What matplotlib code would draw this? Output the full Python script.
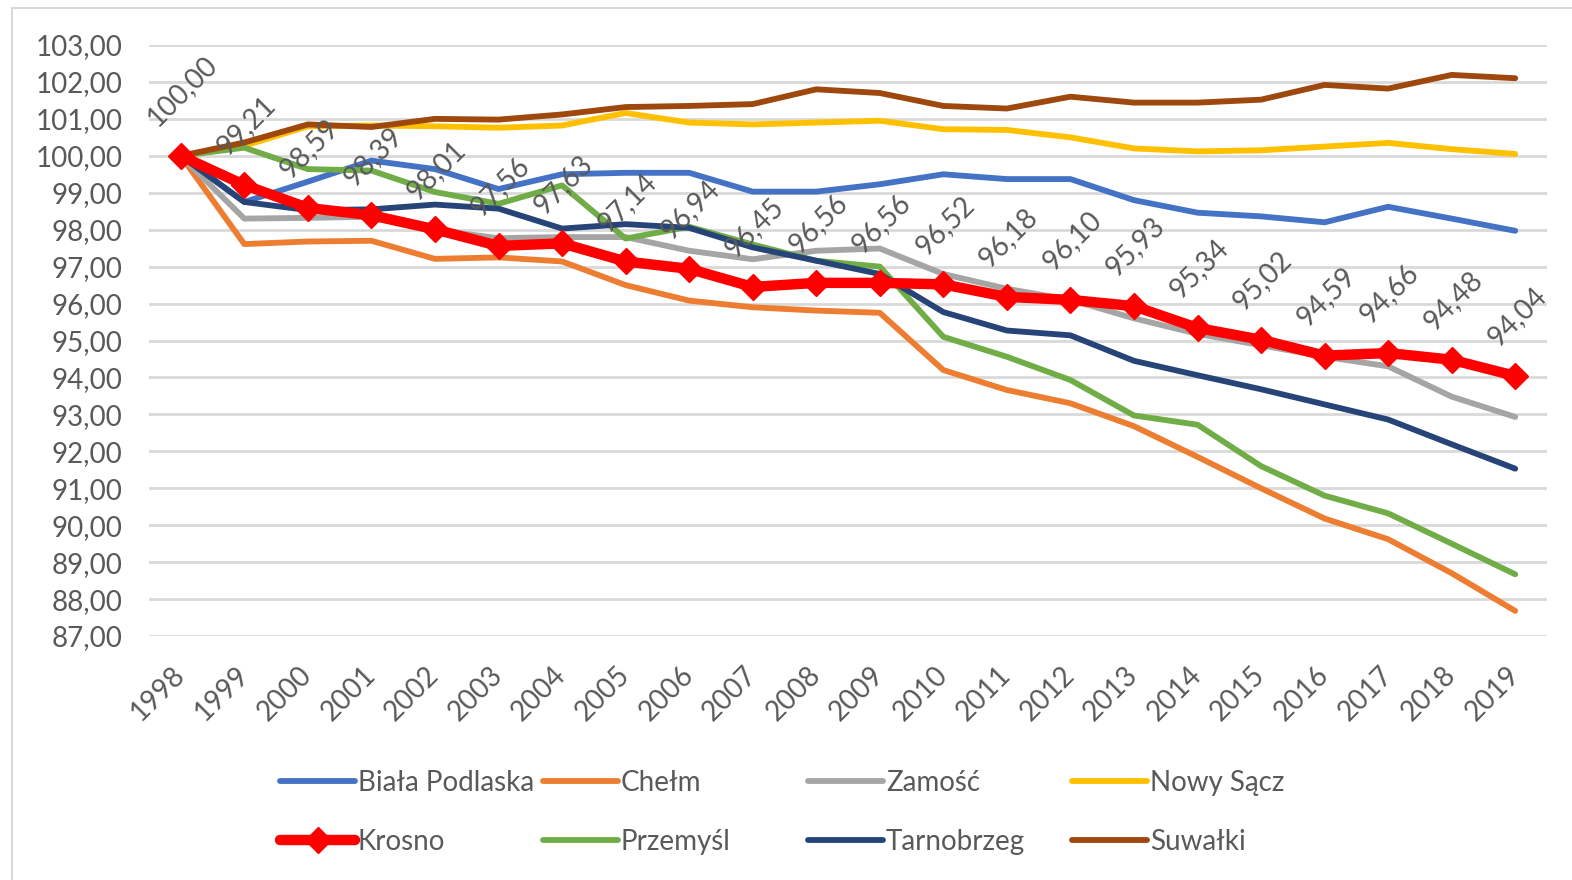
import matplotlib
matplotlib.use("Agg")
import matplotlib.pyplot as plt
from matplotlib.lines import Line2D
from matplotlib.patches import Rectangle

plt.rcParams['font.family'] = ['Lato', 'DejaVu Sans']

years = [str(y) for y in range(1998, 2020)]

biala = [100, 98.75, 99.3, 99.87, 99.64, 99.1, 99.5, 99.54, 99.54, 99.03, 99.03,
         99.23, 99.5, 99.37, 99.37, 98.8, 98.46, 98.36, 98.2, 98.62, 98.3, 97.97]
chelm = [100, 97.61, 97.68, 97.7, 97.21, 97.25, 97.14, 96.5, 96.08, 95.9, 95.81,
         95.75, 94.2, 93.66, 93.3, 92.68, 91.85, 91.0, 90.18, 89.62, 88.7, 87.68]
zamosc = [100, 98.3, 98.32, 98.35, 97.99, 97.77, 97.8, 97.8, 97.43, 97.2, 97.43,
          97.49, 96.8, 96.4, 96.1, 95.6, 95.18, 94.87, 94.56, 94.3, 93.48, 92.93]
nowy_sacz = [100, 100.27, 100.8, 100.82, 100.8, 100.76, 100.82, 101.16, 100.9, 100.85, 100.9,
             100.95, 100.72, 100.7, 100.5, 100.2, 100.12, 100.15, 100.25, 100.35, 100.18, 100.05]
krosno = [100, 99.21, 98.59, 98.39, 98.01, 97.56, 97.63, 97.14, 96.94, 96.45, 96.56,
          96.56, 96.52, 96.18, 96.10, 95.93, 95.34, 95.02, 94.59, 94.66, 94.48, 94.04]
przemysl = [100, 100.22, 99.64, 99.6, 99.02, 98.7, 99.2, 97.76, 98.08, 97.6, 97.16,
            97.0, 95.1, 94.56, 93.93, 92.97, 92.72, 91.6, 90.8, 90.32, 89.5, 88.67]
tarnobrzeg = [100, 98.75, 98.53, 98.55, 98.68, 98.57, 98.03, 98.15, 98.05, 97.52, 97.16,
              96.8, 95.77, 95.27, 95.14, 94.45, 94.06, 93.68, 93.27, 92.86, 92.19, 91.53]
suwalki = [100, 100.36, 100.85, 100.78, 101.0, 100.98, 101.12, 101.32, 101.35, 101.4, 101.8,
           101.7, 101.35, 101.28, 101.6, 101.44, 101.44, 101.52, 101.92, 101.82, 102.19, 102.1]

names = ["Biała Podlaska", "Chełm", "Zamość", "Nowy Sącz", "Krosno", "Przemyśl", "Tarnobrzeg", "Suwałki"]
series = [biala, chelm, zamosc, nowy_sacz, krosno, przemysl, tarnobrzeg, suwalki]
colors = ["#4472C4", "#ED7D31", "#A5A5A5", "#FFC000", "#FF0000", "#70AD47", "#264478", "#9E480E"]

yticks = list(range(87, 104))
TXT = "#595959"
FS = 20

fig = plt.figure(figsize=(15.72, 8.8), dpi=100)
fig.patch.set_facecolor("white")
fig.patches.append(Rectangle((12 / 1572, -0.05), 1.2, 1 - 8 / 880 + 0.05, transform=fig.transFigure,
                             fill=False, edgecolor="#D9D9D9", lw=1.5, zorder=0))

ax = fig.add_axes([149 / 1572, 1 - 636 / 880, (1547 - 149) / 1572, (636 - 45) / 880])
x = list(range(len(years)))

handles = {}
for name, vals, col in zip(names, series, colors):
    if name == "Krosno":
        continue
    h, = ax.plot(x, vals, color=col, lw=4.2, solid_capstyle='round', solid_joinstyle='round', zorder=3)
    handles[name] = h

h, = ax.plot(x, krosno, color="#FF0000", lw=7.5, marker='D', markersize=13,
             solid_capstyle='round', solid_joinstyle='round', zorder=5)
handles["Krosno"] = h

for xi, v in zip(x, krosno):
    ax.annotate(f"{v:.2f}".replace(".", ","), (xi, v), xytext=(1, 18), textcoords='offset points',
                rotation=45, ha='center', va='bottom', fontsize=FS, color=TXT, zorder=6)

ax.set_xlim(-0.5, len(years) - 0.5)
ax.set_ylim(87, 103)
ax.set_yticks(yticks)
ax.set_yticklabels([f"{t:.2f}".replace(".", ",") for t in yticks])
ax.set_xticks(x)
ax.set_xticklabels(years)
ax.tick_params(axis='y', length=0, pad=19, labelsize=FS, labelcolor=TXT)
ax.tick_params(axis='x', length=0, pad=25, labelsize=FS, labelcolor=TXT)
for lab in ax.get_xticklabels():
    lab.set_rotation(45)
    lab.set_ha('right')
    lab.set_va('center')
    lab.set_rotation_mode('anchor')
for s in ax.spines.values():
    s.set_visible(False)
ax.grid(axis='y', color="#D9D9D9", lw=2)
ax.set_axisbelow(True)
ax.patch.set_alpha(0)

# legend: 4 columns x 2 rows, fixed column positions
col_x = [280, 543, 808, 1072]
row_y = [783, 842]
for i, name in enumerate(names):
    r, c = divmod(i, 4)
    hh = handles[name]
    if name == "Krosno":
        proxy = Line2D([], [], color="#FF0000", lw=7.5, marker='D', markersize=13, solid_capstyle='round')
    else:
        proxy = Line2D([], [], color=hh.get_color(), lw=4.2, solid_capstyle='round')
    fig.legend(handles=[proxy], labels=[name], loc='center left',
               bbox_to_anchor=(col_x[c] / 1572, 1 - row_y[r] / 880),
               frameon=False, fontsize=FS, labelcolor=TXT, handlelength=2.7,
               handletextpad=0.1, borderpad=0, borderaxespad=0)

fig.savefig("out.png", dpi=100, facecolor="white")
